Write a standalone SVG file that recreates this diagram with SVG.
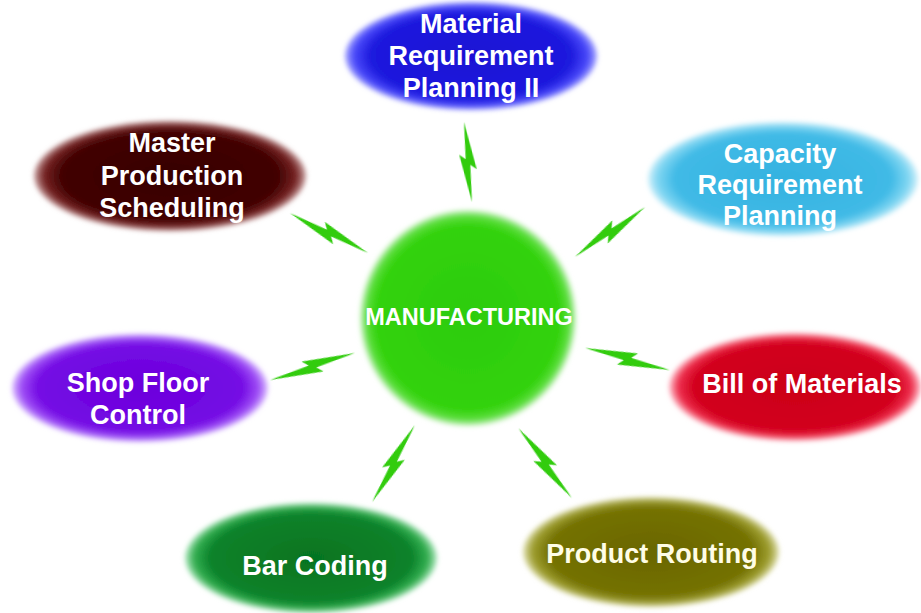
<svg xmlns="http://www.w3.org/2000/svg" xmlns:xlink="http://www.w3.org/1999/xlink" width="921" height="613" viewBox="0 0 921 613">
  <defs>
    <filter id="soft" x="-10%" y="-10%" width="120%" height="120%">
      <feGaussianBlur stdDeviation="2.4"/>
    </filter>
    <filter id="boltsoft" x="-20%" y="-20%" width="140%" height="140%">
      <feGaussianBlur stdDeviation="0.6"/>
    </filter>
    <radialGradient id="gBlue"><stop offset="0" stop-color="#1a10d4"/><stop offset="0.8" stop-color="#1e1ade"/><stop offset="0.93" stop-color="#4a4afa"/><stop offset="1" stop-color="#a8a8ff"/></radialGradient>
    <radialGradient id="gMaroon"><stop offset="0" stop-color="#360000"/><stop offset="0.8" stop-color="#420303"/><stop offset="0.93" stop-color="#782424"/><stop offset="1" stop-color="#c8a0a0"/></radialGradient>
    <radialGradient id="gSky"><stop offset="0" stop-color="#34b2e0"/><stop offset="0.8" stop-color="#40bae6"/><stop offset="0.93" stop-color="#80d6f2"/><stop offset="1" stop-color="#d0f0fa"/></radialGradient>
    <radialGradient id="gPurple"><stop offset="0" stop-color="#6c00dc"/><stop offset="0.8" stop-color="#740ae4"/><stop offset="0.93" stop-color="#a050f6"/><stop offset="1" stop-color="#dcc0ff"/></radialGradient>
    <radialGradient id="gRed"><stop offset="0" stop-color="#cc0018"/><stop offset="0.8" stop-color="#d2001c"/><stop offset="0.93" stop-color="#ee3050"/><stop offset="1" stop-color="#ffc0cc"/></radialGradient>
    <radialGradient id="gGreen"><stop offset="0" stop-color="#067420"/><stop offset="0.8" stop-color="#0a822a"/><stop offset="0.93" stop-color="#34b052"/><stop offset="1" stop-color="#b0e8c0"/></radialGradient>
    <radialGradient id="gOlive"><stop offset="0" stop-color="#6a6600"/><stop offset="0.8" stop-color="#747205"/><stop offset="0.93" stop-color="#a0a030"/><stop offset="1" stop-color="#e0e0b0"/></radialGradient>
    <radialGradient id="gLime"><stop offset="0" stop-color="#2ccc08"/><stop offset="0.85" stop-color="#32d20c"/><stop offset="0.95" stop-color="#62e042"/><stop offset="1" stop-color="#d6f4d0"/></radialGradient>
    <polygon id="bolt" points="0,0 48,-8 43,-2 80,0 32,8 37,2"/>
  </defs>
  <style>
    .lbl { font-family: "Liberation Sans", Arial, "DejaVu Sans", sans-serif; font-weight: bold; font-size: 27px; fill: #ffffff; text-anchor: middle; }
    .hub { font-size: 23.5px; }
    .shape { filter: url(#soft); }
    .b { fill: #30cc10; filter: url(#boltsoft); }
  </style>
  <rect width="921" height="613" fill="#ffffff"/>

  <g id="connectors">
    <use xlink:href="#bolt" href="#bolt" class="b" transform="translate(464,122) rotate(84.3) scale(1.005,1)"/>
    <use xlink:href="#bolt" href="#bolt" class="b" transform="translate(290,213) rotate(27.2) scale(1.096,-1)"/>
    <use xlink:href="#bolt" href="#bolt" class="b" transform="translate(645,207) rotate(144.5) scale(1.075,1)"/>
    <use xlink:href="#bolt" href="#bolt" class="b" transform="translate(270,380) rotate(-17.6) scale(1.115,-1)"/>
    <use xlink:href="#bolt" href="#bolt" class="b" transform="translate(670,370) rotate(194.5) scale(1.098,1)"/>
    <use xlink:href="#bolt" href="#bolt" class="b" transform="translate(372,502) rotate(-60.8) scale(1.1,-1)"/>
    <use xlink:href="#bolt" href="#bolt" class="b" transform="translate(572,498) rotate(232.4) scale(1.1,1)"/>
  </g>

  <g id="manufacturing">
    <circle class="shape" cx="468" cy="318" r="108" fill="url(#gLime)"/>
    <text class="lbl hub" x="469" y="325">MANUFACTURING</text>
  </g>

  <g id="mrp2">
    <ellipse class="shape" cx="471" cy="56" rx="126" ry="54" fill="url(#gBlue)"/>
    <text class="lbl" x="471" y="33">Material</text>
    <text class="lbl" x="471" y="65">Requirement</text>
    <text class="lbl" x="471" y="97">Planning II</text>
  </g>

  <g id="mps">
    <ellipse class="shape" cx="170" cy="176" rx="136" ry="55" fill="url(#gMaroon)"/>
    <text class="lbl" x="172" y="152">Master</text>
    <text class="lbl" x="172" y="185">Production</text>
    <text class="lbl" x="172" y="217">Scheduling</text>
  </g>

  <g id="crp">
    <ellipse class="shape" cx="783" cy="179" rx="135" ry="57" fill="url(#gSky)"/>
    <text class="lbl" x="780" y="163">Capacity</text>
    <text class="lbl" x="780" y="194">Requirement</text>
    <text class="lbl" x="780" y="225">Planning</text>
  </g>

  <g id="sfc">
    <ellipse class="shape" cx="140" cy="388" rx="128" ry="54" fill="url(#gPurple)"/>
    <text class="lbl" x="138" y="392">Shop Floor</text>
    <text class="lbl" x="138" y="424">Control</text>
  </g>

  <g id="bom">
    <ellipse class="shape" cx="795" cy="387" rx="126" ry="54" fill="url(#gRed)"/>
    <text class="lbl" x="802" y="393">Bill of Materials</text>
  </g>

  <g id="barcoding">
    <ellipse class="shape" cx="311" cy="558" rx="126" ry="55" fill="url(#gGreen)"/>
    <text class="lbl" x="315" y="575">Bar Coding</text>
  </g>

  <g id="routing">
    <ellipse class="shape" cx="651" cy="552" rx="128" ry="55" fill="url(#gOlive)"/>
    <text class="lbl" x="652" y="563" style="fill:#fffde6">Product Routing</text>
  </g>
</svg>
